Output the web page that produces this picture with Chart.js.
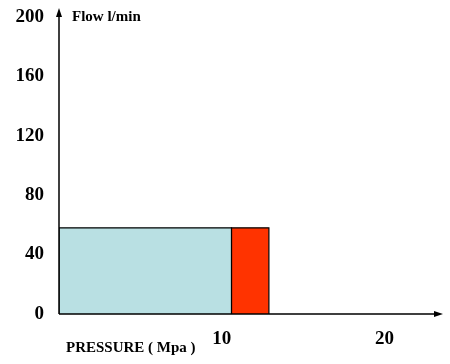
<!DOCTYPE html>
<html>
<head>
<meta charset="utf-8">
<script src="https://cdn.jsdelivr.net/npm/chart.js@4/dist/chart.umd.min.js"></script>
<style>
  html, body { margin: 0; padding: 0; background: #fff; }
  #wrap { width: 450px; height: 364px; }
</style>
</head>
<body>
<div id="wrap"><canvas id="flowChart" width="450" height="364"></canvas></div>
<script>
// pressure band edges (Mpa) and flow level (l/min)
const pressureEdges = [0, 10.6, 12.9];
const flowLevels = [58, 58];
const bandColors = ['#b9e0e3', '#ff3300'];
const yTicks = [0, 40, 80, 120, 160, 200];
const xTicks = [10, 20];

const datasets = flowLevels.map((v, i) => ({
    data: [
        { x: pressureEdges[i], y: 0 },
        { x: pressureEdges[i], y: v },
        { x: pressureEdges[i + 1], y: v },
        { x: pressureEdges[i + 1], y: 0 }
    ],
    borderColor: '#000',
    borderWidth: 1.2,
    backgroundColor: bandColors[i],
    fill: 'origin',
    tension: 0,
    pointRadius: 0
}));

// axes with arrow heads + axis captions
const axesPlugin = {
    id: 'axesPlugin',
    afterDatasetsDraw(chart) {
        const { ctx, chartArea: a } = chart;
        ctx.save();
        ctx.strokeStyle = '#000';
        ctx.fillStyle = '#000';
        ctx.lineWidth = 1.5;
        ctx.beginPath();
        ctx.moveTo(a.left, a.bottom);
        ctx.lineTo(a.left, a.top + 4);
        ctx.moveTo(a.left, a.bottom);
        ctx.lineTo(a.right - 4, a.bottom);
        ctx.stroke();
        ctx.beginPath();
        ctx.moveTo(a.left, a.top);
        ctx.lineTo(a.left - 3, a.top + 9);
        ctx.lineTo(a.left + 3, a.top + 9);
        ctx.closePath();
        ctx.fill();
        ctx.beginPath();
        ctx.moveTo(a.right, a.bottom);
        ctx.lineTo(a.right - 9, a.bottom - 3);
        ctx.lineTo(a.right - 9, a.bottom + 3);
        ctx.closePath();
        ctx.fill();
        ctx.font = 'bold 15px "Liberation Serif"';
        ctx.textBaseline = 'middle';
        ctx.textAlign = 'left';
        ctx.fillText('Flow l/min', 72, 17);
        ctx.fillText('PRESSURE ( Mpa )', 66, 348);
        ctx.restore();
    }
};

const tickFont = { family: '"Liberation Serif"', size: 19, weight: 'bold' };

new Chart(document.getElementById('flowChart'), {
    type: 'line',
    data: { datasets: datasets },
    options: {
        responsive: false,
        animation: false,
        layout: { padding: { left: 0, right: 7, top: 8, bottom: 0 } },
        plugins: { legend: { display: false }, tooltip: { enabled: false } },
        scales: {
            x: {
                type: 'linear',
                min: 0,
                max: 23.6,
                afterBuildTicks: s => { s.ticks = xTicks.map(v => ({ value: v })); },
                afterFit: s => { s.height = 50; s.paddingLeft = 0; s.paddingRight = 0; },
                grid: { display: false, drawTicks: false },
                border: { display: false },
                ticks: { color: '#000', font: tickFont, padding: 14 }
            },
            y: {
                type: 'linear',
                min: 0,
                max: 206,
                afterBuildTicks: s => { s.ticks = yTicks.map(v => ({ value: v })); },
                afterFit: s => { s.width = 59; s.paddingTop = 0; s.paddingBottom = 0; },
                grid: { display: false, drawTicks: false },
                border: { display: false },
                ticks: { color: '#000', font: tickFont, padding: 15 }
            }
        }
    },
    plugins: [axesPlugin]
});
</script>
</body>
</html>
